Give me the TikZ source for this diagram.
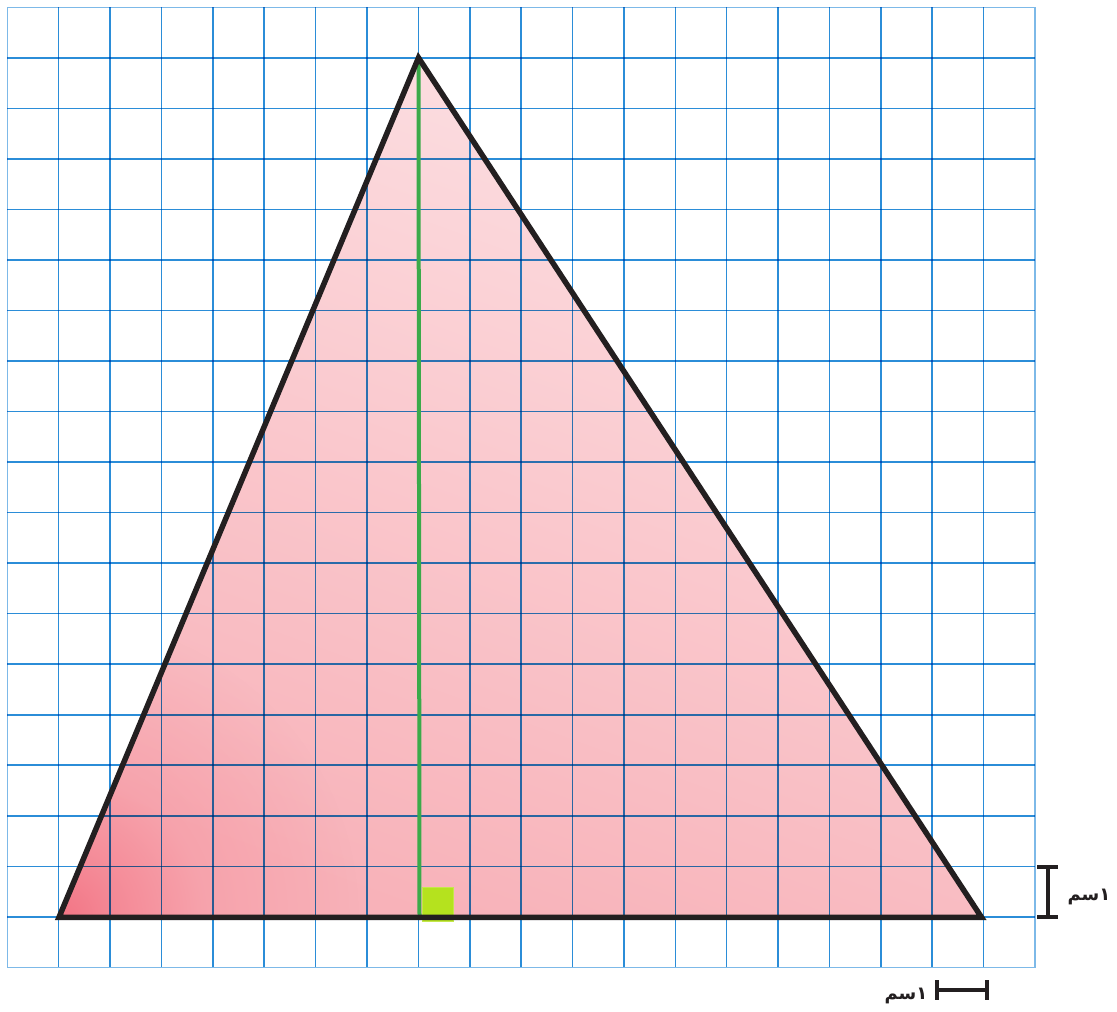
\documentclass[tikz,border=0pt]{standalone}
\usepackage{fontspec}
\usetikzlibrary{fadings}
\newfontfamily\arabicfont[Script=Arabic]{DejaVu Sans}
\TeXXeTstate=1
\definecolor{gridblue}{HTML}{2B8DD8}
\definecolor{gridedge}{HTML}{7DB9E8}
\definecolor{tridark}{HTML}{231F20}
\definecolor{pinkdark}{HTML}{F37585}
\definecolor{pinkbottom}{HTML}{F8B2B9}
\definecolor{pinkmid}{HTML}{F9C6CB}
\definecolor{pinklight}{HTML}{FCE0E3}
\definecolor{altgreen}{HTML}{3BAA4A}
\definecolor{limegreen}{HTML}{B5E21E}
\pgfdeclareradialshading{cornerglowsh}{\pgfpointorigin}{color(0bp)=(pgftransparent!0); color(5bp)=(pgftransparent!35); color(12bp)=(pgftransparent!75); color(25bp)=(pgftransparent!100); color(50bp)=(pgftransparent!100)}
\pgfdeclarefading{cornerglow}{\pgfuseshading{cornerglowsh}}
\tikzset{
  gridline/.style={draw=gridblue, line width=1.6pt},
  edgeline/.style={draw=gridedge, line width=1.4pt},
  side/.style={draw=tridark, line width=5.5pt, line join=miter, line cap=butt},
  altitude/.style={draw=altgreen, line width=4pt},
  rightmark/.style={fill=limegreen, draw=limegreen!80!white, line width=1pt},
  scalebar/.style={draw=tridark, line width=3.2pt},
  cmlabel/.style={font=\arabicfont\bfseries\fontsize{18}{20}\selectfont, text=tridark, inner sep=0pt}
}
\begin{document}
\begin{tikzpicture}[x=1pt,y=-1pt]
\useasboundingbox (0,0) rectangle (1117,1012);
\fill[white] (0,0) rectangle (1117,1012);
% triangle vertices
\coordinate (A) at (418.5,57.8);
\coordinate (B) at (59,917.3);
\coordinate (C) at (981.5,917.3);
\coordinate (H) at (419.5,917.3);
% fill
\shade[top color=pinklight, middle color=pinkmid, bottom color=pinkbottom, shading angle=-20] (A) -- (B) -- (C) -- cycle;
\begin{scope}
  \clip (A) -- (B) -- (C) -- cycle;
  \fill[pinkdark, path fading=cornerglow, fit fading=true] (B) circle (300);
\end{scope}
% grid
\begin{scope}[blend mode=multiply]
\foreach \i in {1,...,19} {
  \draw[gridline] ({7.3+51.385*\i},7.3) -- ({7.3+51.385*\i},967.3);
}
\foreach \j in {1,...,18} {
  \draw[gridline] (7.3,{7.3+50.53*\j}) -- (1035,{7.3+50.53*\j});
}
\draw[edgeline] (7.3,7.3) rectangle (1035,967.3);
\end{scope}
% right angle mark
\fill[rightmark] (422.5,887.5) rectangle (453.5,921.5);
% altitude
\draw[altitude] (A) -- (H);
% triangle sides
\draw[side] (A) -- (B) -- (C) -- cycle;
% scale bars
\coordinate (v1) at (1048,867);
\coordinate (v2) at (1048,917);
\draw[scalebar] (v1) -- (v2);
\draw[scalebar] (1037,867) -- (1058,867);
\draw[scalebar] (1037,917) -- (1058,917);
\coordinate (h1) at (937,990);
\coordinate (h2) at (987,990);
\draw[scalebar] (h1) -- (h2);
\draw[scalebar] (937,980) -- (937,1000);
\draw[scalebar] (987,980) -- (987,1000);
\node[cmlabel] (lv) at (1089,897) {\beginR ١سم\endR};
\node[cmlabel] (lh) at (906,996) {\beginR ١سم\endR};
\end{tikzpicture}
\end{document}
